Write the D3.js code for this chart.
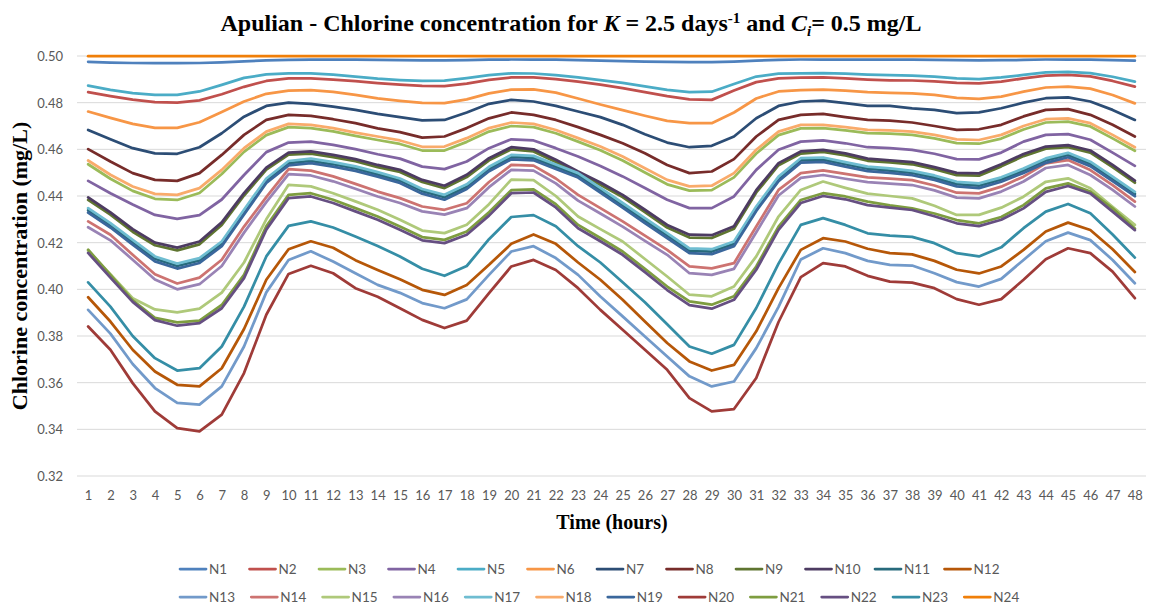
<!DOCTYPE html>
<html>
<head>
<meta charset="utf-8">
<script src="https://cdn.jsdelivr.net/npm/d3@7"></script>
<style>
  body { margin: 0; background: #fff; }
  svg { display: block; }
  .tick text { fill: #595959; font-family: Lato, 'Open Sans', sans-serif; font-size: 13px; }
  .serif { font-family: 'Liberation Serif', 'Times New Roman', serif; font-weight: bold; fill: #000; }
  .legend text { fill: #595959; font-family: Lato, 'Open Sans', sans-serif; font-size: 13.5px; }
</style>
</head>
<body>
<svg id="chart" width="1155" height="604"></svg>
<script>
//Categories and ticks
const hours = [1, 2, 3, 4, 5, 6, 7, 8, 9, 10, 11, 12, 13, 14, 15, 16, 17, 18, 19, 20, 21, 22, 23, 24,
  25, 26, 27, 28, 29, 30, 31, 32, 33, 34, 35, 36, 37, 38, 39, 40, 41, 42, 43, 44, 45, 46, 47, 48];
const yTicks = [0.32, 0.34, 0.36, 0.38, 0.40, 0.42, 0.44, 0.46, 0.48, 0.50];

//Series values (mg/L)
const n1 = [0.4975, 0.4972, 0.4970, 0.4969, 0.4969, 0.4970, 0.4973, 0.4977, 0.4981, 0.4983, 0.4984, 0.4984, 0.4984, 0.4983, 0.4982, 0.4981, 0.4981, 0.4982, 0.4984, 0.4985, 0.4985, 0.4984, 0.4982, 0.4980, 0.4978, 0.4976, 0.4975, 0.4974, 0.4974, 0.4976, 0.4980, 0.4983, 0.4985, 0.4985, 0.4985, 0.4984, 0.4984, 0.4984, 0.4983, 0.4982, 0.4981, 0.4982, 0.4983, 0.4985, 0.4985, 0.4984, 0.4982, 0.4980];
const n2 = [0.4845, 0.4828, 0.4813, 0.4802, 0.4800, 0.4810, 0.4836, 0.4868, 0.4893, 0.4904, 0.4904, 0.4899, 0.4892, 0.4884, 0.4877, 0.4872, 0.4871, 0.4882, 0.4898, 0.4908, 0.4908, 0.4901, 0.4890, 0.4877, 0.4862, 0.4845, 0.4828, 0.4814, 0.4812, 0.4852, 0.4888, 0.4904, 0.4907, 0.4908, 0.4904, 0.4899, 0.4896, 0.4895, 0.4891, 0.4885, 0.4883, 0.4890, 0.4904, 0.4916, 0.4919, 0.4913, 0.4893, 0.4869];
const n3 = [0.4536, 0.4474, 0.4422, 0.4388, 0.4383, 0.4413, 0.4494, 0.4589, 0.4661, 0.4695, 0.4691, 0.4677, 0.4658, 0.4640, 0.4623, 0.4595, 0.4595, 0.4632, 0.4676, 0.4700, 0.4695, 0.4669, 0.4633, 0.4596, 0.4552, 0.4501, 0.4450, 0.4423, 0.4425, 0.4480, 0.4582, 0.4661, 0.4690, 0.4691, 0.4681, 0.4669, 0.4667, 0.4662, 0.4647, 0.4627, 0.4624, 0.4646, 0.4685, 0.4715, 0.4719, 0.4698, 0.4647, 0.4594];
const n4 = [0.4465, 0.4412, 0.4364, 0.4319, 0.4302, 0.4318, 0.4385, 0.4490, 0.4588, 0.4629, 0.4633, 0.4619, 0.4601, 0.4579, 0.4560, 0.4526, 0.4515, 0.4548, 0.4605, 0.4643, 0.4638, 0.4605, 0.4569, 0.4529, 0.4484, 0.4434, 0.4384, 0.4348, 0.4348, 0.4398, 0.4512, 0.4598, 0.4633, 0.4638, 0.4626, 0.4609, 0.4605, 0.4598, 0.4581, 0.4558, 0.4557, 0.4586, 0.4633, 0.4662, 0.4665, 0.4641, 0.4586, 0.4529];
const n5 = [0.4873, 0.4855, 0.4841, 0.4833, 0.4833, 0.4848, 0.4876, 0.4906, 0.4921, 0.4926, 0.4926, 0.4920, 0.4912, 0.4903, 0.4897, 0.4893, 0.4894, 0.4905, 0.4918, 0.4926, 0.4925, 0.4918, 0.4908, 0.4897, 0.4885, 0.4870, 0.4855, 0.4845, 0.4847, 0.4880, 0.4912, 0.4924, 0.4926, 0.4927, 0.4924, 0.4920, 0.4918, 0.4916, 0.4912, 0.4904, 0.4901, 0.4908, 0.4919, 0.4930, 0.4932, 0.4927, 0.4911, 0.4890];
const n6 = [0.4762, 0.4735, 0.4709, 0.4692, 0.4692, 0.4716, 0.4760, 0.4805, 0.4838, 0.4852, 0.4854, 0.4846, 0.4833, 0.4818, 0.4808, 0.4799, 0.4798, 0.4814, 0.4840, 0.4856, 0.4857, 0.4843, 0.4818, 0.4792, 0.4768, 0.4744, 0.4722, 0.4712, 0.4712, 0.4758, 0.4818, 0.4848, 0.4854, 0.4856, 0.4852, 0.4845, 0.4842, 0.4840, 0.4833, 0.4821, 0.4816, 0.4826, 0.4847, 0.4865, 0.4869, 0.4860, 0.4833, 0.4797];
const n7 = [0.4683, 0.4643, 0.4605, 0.4583, 0.4581, 0.4609, 0.4669, 0.4740, 0.4786, 0.4800, 0.4795, 0.4783, 0.4769, 0.4752, 0.4738, 0.4724, 0.4726, 0.4758, 0.4795, 0.4812, 0.4805, 0.4786, 0.4762, 0.4738, 0.4705, 0.4665, 0.4629, 0.4609, 0.4615, 0.4655, 0.4733, 0.4786, 0.4805, 0.4809, 0.4798, 0.4786, 0.4786, 0.4776, 0.4769, 0.4755, 0.4758, 0.4776, 0.4800, 0.4819, 0.4823, 0.4805, 0.4769, 0.4726];
const n8 = [0.4601, 0.4548, 0.4498, 0.4469, 0.4465, 0.4498, 0.4576, 0.4662, 0.4726, 0.4748, 0.4743, 0.4729, 0.4712, 0.4690, 0.4674, 0.4650, 0.4655, 0.4691, 0.4733, 0.4758, 0.4748, 0.4726, 0.4695, 0.4662, 0.4626, 0.4583, 0.4533, 0.4498, 0.4505, 0.4558, 0.4655, 0.4726, 0.4748, 0.4752, 0.4738, 0.4726, 0.4723, 0.4715, 0.4700, 0.4683, 0.4686, 0.4705, 0.4741, 0.4769, 0.4772, 0.4748, 0.4705, 0.4655];
const n9 = [0.4383, 0.4320, 0.4247, 0.4189, 0.4167, 0.4193, 0.4276, 0.4402, 0.4513, 0.4577, 0.4582, 0.4567, 0.4549, 0.4524, 0.4503, 0.4460, 0.4434, 0.4481, 0.4553, 0.4600, 0.4591, 0.4546, 0.4496, 0.4448, 0.4395, 0.4331, 0.4265, 0.4222, 0.4220, 0.4260, 0.4415, 0.4532, 0.4582, 0.4589, 0.4574, 0.4551, 0.4544, 0.4536, 0.4515, 0.4489, 0.4487, 0.4527, 0.4571, 0.4603, 0.4609, 0.4586, 0.4524, 0.4457];
const n10 = [0.4394, 0.4330, 0.4258, 0.4200, 0.4179, 0.4205, 0.4287, 0.4412, 0.4522, 0.4586, 0.4591, 0.4576, 0.4558, 0.4533, 0.4512, 0.4469, 0.4444, 0.4491, 0.4562, 0.4609, 0.4600, 0.4555, 0.4505, 0.4458, 0.4405, 0.4341, 0.4276, 0.4234, 0.4232, 0.4270, 0.4425, 0.4541, 0.4591, 0.4598, 0.4583, 0.4560, 0.4553, 0.4545, 0.4524, 0.4499, 0.4497, 0.4536, 0.4580, 0.4612, 0.4618, 0.4595, 0.4533, 0.4466];
const n11 = [0.4339, 0.4275, 0.4202, 0.4131, 0.4100, 0.4124, 0.4195, 0.4331, 0.4466, 0.4541, 0.4551, 0.4536, 0.4518, 0.4493, 0.4466, 0.4421, 0.4395, 0.4440, 0.4516, 0.4567, 0.4563, 0.4526, 0.4489, 0.4426, 0.4360, 0.4295, 0.4231, 0.4166, 0.4162, 0.4195, 0.4346, 0.4474, 0.4553, 0.4556, 0.4536, 0.4517, 0.4509, 0.4499, 0.4479, 0.4451, 0.4444, 0.4471, 0.4509, 0.4552, 0.4576, 0.4538, 0.4474, 0.4409];
const n12 = [0.3966, 0.3862, 0.3741, 0.3648, 0.3591, 0.3584, 0.3662, 0.3830, 0.4041, 0.4172, 0.4206, 0.4178, 0.4125, 0.4083, 0.4043, 0.3998, 0.3976, 0.4019, 0.4105, 0.4195, 0.4235, 0.4195, 0.4115, 0.4041, 0.3955, 0.3862, 0.3770, 0.3691, 0.3652, 0.3676, 0.3820, 0.4005, 0.4169, 0.4219, 0.4205, 0.4174, 0.4155, 0.4150, 0.4122, 0.4084, 0.4068, 0.4098, 0.4169, 0.4248, 0.4286, 0.4254, 0.4172, 0.4074];
const n13 = [0.3912, 0.3810, 0.3680, 0.3577, 0.3513, 0.3506, 0.3584, 0.3755, 0.3987, 0.4126, 0.4163, 0.4119, 0.4069, 0.4019, 0.3985, 0.3941, 0.3919, 0.3957, 0.4062, 0.4162, 0.4185, 0.4134, 0.4062, 0.3969, 0.3884, 0.3798, 0.3712, 0.3627, 0.3584, 0.3605, 0.3748, 0.3925, 0.4128, 0.4176, 0.4155, 0.4122, 0.4105, 0.4102, 0.4069, 0.4031, 0.4012, 0.4045, 0.4126, 0.4206, 0.4243, 0.4211, 0.4126, 0.4026];
const n14 = [0.4291, 0.4234, 0.4148, 0.4065, 0.4025, 0.4050, 0.4127, 0.4269, 0.4395, 0.4515, 0.4509, 0.4484, 0.4452, 0.4419, 0.4391, 0.4355, 0.4341, 0.4369, 0.4460, 0.4533, 0.4530, 0.4475, 0.4405, 0.4348, 0.4291, 0.4230, 0.4169, 0.4098, 0.4090, 0.4112, 0.4269, 0.4426, 0.4498, 0.4510, 0.4495, 0.4480, 0.4474, 0.4468, 0.4445, 0.4414, 0.4411, 0.4440, 0.4483, 0.4540, 0.4554, 0.4511, 0.4447, 0.4376];
const n15 = [0.4165, 0.4065, 0.3962, 0.3914, 0.3901, 0.3917, 0.3986, 0.4115, 0.4300, 0.4448, 0.4441, 0.4412, 0.4377, 0.4341, 0.4298, 0.4252, 0.4241, 0.4277, 0.4365, 0.4470, 0.4468, 0.4400, 0.4312, 0.4258, 0.4205, 0.4130, 0.4055, 0.3977, 0.3970, 0.4012, 0.4141, 0.4312, 0.4426, 0.4462, 0.4435, 0.4410, 0.4400, 0.4390, 0.4358, 0.4319, 0.4319, 0.4350, 0.4397, 0.4461, 0.4476, 0.4433, 0.4354, 0.4276];
const n16 = [0.4266, 0.4210, 0.4127, 0.4042, 0.4000, 0.4022, 0.4100, 0.4243, 0.4374, 0.4494, 0.4488, 0.4463, 0.4431, 0.4398, 0.4370, 0.4334, 0.4320, 0.4348, 0.4438, 0.4512, 0.4509, 0.4454, 0.4380, 0.4325, 0.4269, 0.4208, 0.4148, 0.4069, 0.4062, 0.4088, 0.4245, 0.4402, 0.4478, 0.4490, 0.4474, 0.4459, 0.4453, 0.4447, 0.4424, 0.4393, 0.4390, 0.4419, 0.4462, 0.4520, 0.4533, 0.4490, 0.4426, 0.4355];
const n17 = [0.4348, 0.4284, 0.4212, 0.4141, 0.4110, 0.4134, 0.4205, 0.4341, 0.4475, 0.4550, 0.4560, 0.4545, 0.4527, 0.4502, 0.4475, 0.4430, 0.4405, 0.4450, 0.4525, 0.4576, 0.4572, 0.4535, 0.4498, 0.4435, 0.4370, 0.4305, 0.4241, 0.4176, 0.4172, 0.4205, 0.4355, 0.4483, 0.4562, 0.4565, 0.4545, 0.4526, 0.4518, 0.4508, 0.4488, 0.4461, 0.4454, 0.4480, 0.4518, 0.4561, 0.4585, 0.4547, 0.4483, 0.4418];
const n18 = [0.4552, 0.4491, 0.4441, 0.4409, 0.4405, 0.4434, 0.4512, 0.4605, 0.4676, 0.4709, 0.4705, 0.4691, 0.4672, 0.4655, 0.4638, 0.4611, 0.4612, 0.4648, 0.4691, 0.4715, 0.4709, 0.4683, 0.4648, 0.4612, 0.4569, 0.4519, 0.4469, 0.4441, 0.4444, 0.4498, 0.4598, 0.4676, 0.4705, 0.4705, 0.4695, 0.4683, 0.4681, 0.4676, 0.4662, 0.4643, 0.4640, 0.4662, 0.4700, 0.4729, 0.4733, 0.4712, 0.4662, 0.4609];
const n19 = [0.4329, 0.4265, 0.4192, 0.4120, 0.4089, 0.4113, 0.4185, 0.4321, 0.4456, 0.4531, 0.4541, 0.4526, 0.4508, 0.4483, 0.4456, 0.4410, 0.4384, 0.4430, 0.4506, 0.4557, 0.4553, 0.4516, 0.4479, 0.4415, 0.4350, 0.4284, 0.4220, 0.4155, 0.4151, 0.4185, 0.4336, 0.4464, 0.4543, 0.4546, 0.4526, 0.4507, 0.4499, 0.4489, 0.4469, 0.4441, 0.4434, 0.4461, 0.4499, 0.4542, 0.4566, 0.4528, 0.4464, 0.4399];
const n20 = [0.3841, 0.3741, 0.3598, 0.3477, 0.3405, 0.3391, 0.3463, 0.3641, 0.3891, 0.4066, 0.4101, 0.4069, 0.4005, 0.3968, 0.3919, 0.3869, 0.3834, 0.3866, 0.3984, 0.4098, 0.4126, 0.4083, 0.4005, 0.3912, 0.3827, 0.3741, 0.3655, 0.3534, 0.3477, 0.3487, 0.3620, 0.3860, 0.4052, 0.4112, 0.4098, 0.4058, 0.4033, 0.4029, 0.4005, 0.3958, 0.3934, 0.3958, 0.4041, 0.4129, 0.4176, 0.4155, 0.4076, 0.3962];
const n21 = [0.4170, 0.4062, 0.3953, 0.3878, 0.3858, 0.3866, 0.3933, 0.4062, 0.4270, 0.4405, 0.4412, 0.4384, 0.4348, 0.4312, 0.4269, 0.4224, 0.4212, 0.4248, 0.4330, 0.4425, 0.4428, 0.4365, 0.4276, 0.4220, 0.4162, 0.4088, 0.4012, 0.3948, 0.3934, 0.3970, 0.4098, 0.4269, 0.4383, 0.4412, 0.4398, 0.4376, 0.4360, 0.4347, 0.4325, 0.4297, 0.4283, 0.4310, 0.4361, 0.4433, 0.4454, 0.4419, 0.4347, 0.4261];
const n22 = [0.4156, 0.4050, 0.3946, 0.3868, 0.3844, 0.3855, 0.3919, 0.4048, 0.4256, 0.4391, 0.4398, 0.4370, 0.4334, 0.4298, 0.4255, 0.4210, 0.4198, 0.4234, 0.4316, 0.4412, 0.4415, 0.4351, 0.4262, 0.4206, 0.4148, 0.4074, 0.3997, 0.3932, 0.3917, 0.3955, 0.4084, 0.4255, 0.4370, 0.4400, 0.4386, 0.4361, 0.4350, 0.4340, 0.4313, 0.4283, 0.4271, 0.4298, 0.4347, 0.4418, 0.4443, 0.4411, 0.4333, 0.4254];
const n23 = [0.4030, 0.3926, 0.3800, 0.3705, 0.3652, 0.3662, 0.3755, 0.3926, 0.4141, 0.4272, 0.4291, 0.4265, 0.4226, 0.4186, 0.4141, 0.4088, 0.4058, 0.4100, 0.4215, 0.4310, 0.4318, 0.4270, 0.4185, 0.4115, 0.4030, 0.3945, 0.3850, 0.3755, 0.3724, 0.3762, 0.3920, 0.4110, 0.4276, 0.4305, 0.4276, 0.4240, 0.4230, 0.4225, 0.4198, 0.4155, 0.4141, 0.4180, 0.4262, 0.4333, 0.4366, 0.4326, 0.4235, 0.4136];
const n24 = [0.4999, 0.4999, 0.4999, 0.4999, 0.4999, 0.4999, 0.4999, 0.4999, 0.4999, 0.4999, 0.4999, 0.4999, 0.4999, 0.4999, 0.4999, 0.4999, 0.4999, 0.4999, 0.4999, 0.4999, 0.4999, 0.4999, 0.4999, 0.4999, 0.4999, 0.4999, 0.4999, 0.4999, 0.4999, 0.4999, 0.4999, 0.4999, 0.4999, 0.4999, 0.4999, 0.4999, 0.4999, 0.4999, 0.4999, 0.4999, 0.4999, 0.4999, 0.4999, 0.4999, 0.4999, 0.4999, 0.4999, 0.4999];

const seriesNames = ['N1', 'N2', 'N3', 'N4', 'N5', 'N6', 'N7', 'N8', 'N9', 'N10', 'N11', 'N12',
  'N13', 'N14', 'N15', 'N16', 'N17', 'N18', 'N19', 'N20', 'N21', 'N22', 'N23', 'N24'];
const seriesValues = [n1, n2, n3, n4, n5, n6, n7, n8, n9, n10, n11, n12,
  n13, n14, n15, n16, n17, n18, n19, n20, n21, n22, n23, n24];
const seriesColors = ['#4F81BD', '#C0504D', '#9BBB59', '#8064A2', '#4BACC6', '#F79646',
  '#2C4D75', '#772C2A', '#5F7530', '#4D3B62', '#276A7C', '#B65708',
  '#729ACA', '#CD7371', '#AFC97A', '#9983B5', '#6FBDD1', '#F9AB6B',
  '#3A679C', '#9F3B38', '#7E9D40', '#664F82', '#358EA6', '#F07F09'];

//Build series table
let series = seriesNames.map((name, i) => ({
  name: name,
  color: seriesColors[i],
  values: hours.map((h, j) => ({ hour: h, value: seriesValues[i][j] })),
}));

//Plot area
let plot = { left: 77, right: 1146, top: 56, bottom: 476 };

let svg = d3.select('#chart');

//Scales
let x = d3.scalePoint().domain(hours).range([plot.left, plot.right]).padding(0.5);
let y = d3.scaleLinear().domain([0.32, 0.50]).range([plot.bottom, plot.top]);

//Gridlines
svg.append('g')
  .selectAll('line')
  .data(yTicks)
  .enter()
  .append('line')
    .attr('x1', plot.left)
    .attr('x2', plot.right)
    .attr('y1', d => y(d))
    .attr('y2', d => y(d))
    .attr('stroke', '#D9D9D9')
    .attr('stroke-width', 1);

//Y axis
let yAxis = svg.append('g')
  .attr('transform', 'translate(' + (plot.left - 11) + ',0)')
  .call(d3.axisLeft(y).tickValues(yTicks).tickFormat(d3.format('.2f')).tickSize(0));
yAxis.select('.domain').remove();
yAxis.selectAll('text').attr('dy', '0.35em');

//X axis
let xAxis = svg.append('g')
  .attr('transform', 'translate(0,' + (plot.bottom + 12) + ')')
  .call(d3.axisBottom(x).tickSize(0));
xAxis.select('.domain').remove();

//Lines
let line = d3.line()
  .x(d => x(d.hour))
  .y(d => y(d.value));

svg.append('g')
  .selectAll('path')
  .data(series)
  .enter()
  .append('path')
    .attr('d', d => line(d.values))
    .attr('fill', 'none')
    .attr('stroke', d => d.color)
    .attr('stroke-width', 2.75)
    .attr('stroke-linejoin', 'round')
    .attr('stroke-linecap', 'round');

//Title
let title = svg.append('text')
  .attr('class', 'serif')
  .attr('x', 571)
  .attr('y', 31)
  .attr('text-anchor', 'middle')
  .style('font-size', '24px');
title.append('tspan').text('Apulian - Chlorine concentration for ');
title.append('tspan').style('font-style', 'italic').text('K');
title.append('tspan').text(' = 2.5 days');
title.append('tspan').attr('dy', -8).style('font-size', '15px').text('-1');
title.append('tspan').attr('dy', 8).text(' and ');
title.append('tspan').style('font-style', 'italic').text('C');
title.append('tspan').attr('dy', 5).style('font-size', '15px').style('font-style', 'italic').text('i');
title.append('tspan').attr('dy', -5).text('= 0.5 mg/L');

//Axis titles
svg.append('text')
  .attr('class', 'serif')
  .attr('transform', 'translate(27,' + ((plot.top + plot.bottom) / 2) + ') rotate(-90)')
  .attr('text-anchor', 'middle')
  .style('font-size', '22px')
  .text('Chlorine concentration (mg/L)');

svg.append('text')
  .attr('class', 'serif')
  .attr('x', 612)
  .attr('y', 529)
  .attr('text-anchor', 'middle')
  .style('font-size', '20px')
  .text('Time (hours)');

//Legend
let legendStart = 180;
let legendSteps = [69.5, 71.3];
let legendRows = [569, 597];

let legend = svg.append('g')
  .attr('class', 'legend')
  .selectAll('g')
  .data(series)
  .enter()
  .append('g')
    .attr('transform', (d, i) => {
      let row = Math.floor(i / 12);
      return 'translate(' + (legendStart + (i % 12) * legendSteps[row]) + ',' + legendRows[row] + ')';
    });

legend.append('line')
  .attr('x1', 0)
  .attr('x2', 26)
  .attr('stroke', d => d.color)
  .attr('stroke-width', 2.75)
  .attr('stroke-linecap', 'round');

legend.append('text')
  .attr('x', 29)
  .attr('dy', '0.35em')
  .text(d => d.name);
</script>
</body>
</html>
